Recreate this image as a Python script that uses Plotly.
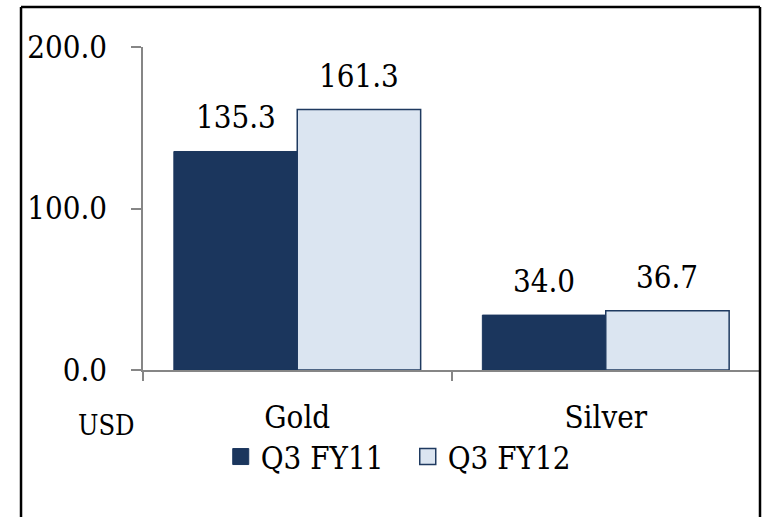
import plotly.graph_objects as go

# Quarterly revenue by metal, USD
categories = ["Gold", "Silver"]
series_names = ["Q3 FY11", "Q3 FY12"]
q3_fy11 = [135.3, 34.0]
q3_fy12 = [161.3, 36.7]
y_ticks = [0, 100, 200]

FONT = "DejaVu Serif Condensed, DejaVu Serif, Liberation Serif, serif"
DARK = "#1b365d"
LIGHT = "#dbe5f1"
EDGE = "#1f3a60"
AXIS = "#868686"

fig = go.Figure()

fig.add_trace(go.Bar(
    x=categories, y=q3_fy11, name=series_names[0],
    marker=dict(color=DARK, line=dict(color=DARK, width=1)),
    showlegend=False,
))
fig.add_trace(go.Bar(
    x=categories, y=q3_fy12, name=series_names[1],
    marker=dict(color=LIGHT, line=dict(color=EDGE, width=1.5)),
    showlegend=False,
))

# Legend entries with larger square swatches
fig.add_trace(go.Scatter(
    x=[None], y=[None], mode="markers", name=series_names[0],
    marker=dict(symbol="square", size=16, color=DARK, line=dict(color=DARK, width=1)),
))
fig.add_trace(go.Scatter(
    x=[None], y=[None], mode="markers", name=series_names[1],
    marker=dict(symbol="square", size=16, color=LIGHT, line=dict(color=EDGE, width=1.5)),
))

# Value labels above each bar
for i, cat in enumerate(categories):
    for offset, vals in ((-0.2, q3_fy11), (0.2, q3_fy12)):
        fig.add_annotation(
            x=i + offset, y=vals[i], xref="x", yref="y",
            text=f"{vals[i]:.1f}", showarrow=False,
            yanchor="bottom", yshift=14,
            font=dict(family=FONT, size=31, color="#000000"),
        )

# Axis unit label
fig.add_annotation(
    x=-0.059, y=-0.172, xref="paper", yref="paper",
    text="USD", showarrow=False, xanchor="center", yanchor="middle",
    font=dict(family=FONT, size=27, color="#000000"),
)

# Outer frame (open at the bottom)
frame = dict(color="#000000", width=2.5)
fig.add_shape(type="line", xref="paper", yref="paper",
              x0=-0.1977, x1=-0.1977, y0=1.1238, y1=-0.5, line=frame)
fig.add_shape(type="line", xref="paper", yref="paper",
              x0=-0.1977, x1=1.0, y0=1.1238, y1=1.1238, line=frame)
fig.add_shape(type="line", xref="paper", yref="paper",
              x0=1.0, x1=1.0, y0=1.1238, y1=-0.5, line=frame)

fig.update_layout(
    width=763, height=517,
    margin=dict(l=143, r=3, t=47, b=147),
    paper_bgcolor="white", plot_bgcolor="white",
    barmode="group", bargap=0.2, bargroupgap=0,
    font=dict(family=FONT, size=31, color="#000000"),
    legend=dict(
        orientation="h", x=0.126, y=-0.269,
        xanchor="left", yanchor="middle",
        font=dict(family=FONT, size=31, color="#000000"),
        itemsizing="trace", tracegroupgap=0, itemwidth=30,
        entrywidth=142, entrywidthmode="pixels",
        borderwidth=0,
        bgcolor="rgba(0,0,0,0)",
    ),
    xaxis=dict(
        type="category",
        showline=True, linecolor=AXIS, linewidth=2,
        ticks="outside", tickson="boundaries", ticklen=9, tickcolor=AXIS, tickwidth=1.5,
        ticklabelstandoff=19,
        showgrid=False, zeroline=False,
        tickfont=dict(family=FONT, size=31),
    ),
    yaxis=dict(
        range=[0, 200], tickvals=y_ticks, tickformat=".1f",
        showline=True, linecolor=AXIS, linewidth=1.5,
        ticks="outside", ticklen=10, tickcolor=AXIS, tickwidth=1.5,
        ticklabelstandoff=18,
        showgrid=False, zeroline=False,
        tickfont=dict(family=FONT, size=31),
    ),
)

fig.write_html("out.html")
